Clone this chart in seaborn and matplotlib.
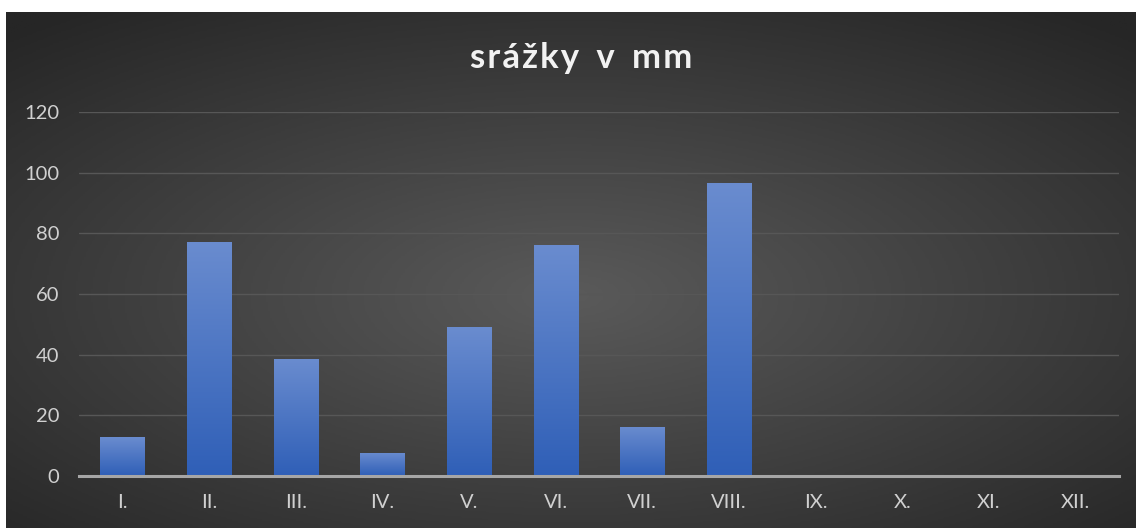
import numpy as np
import pandas as pd
import seaborn as sns
import matplotlib.pyplot as plt
from matplotlib.colors import LinearSegmentedColormap

# Data
months = ["I.", "II.", "III.", "IV.", "V.", "VI.", "VII.", "VIII.", "IX.", "X.", "XI.", "XII."]
rain_mm = [12.8, 77.2, 38.6, 7.6, 49.1, 76.2, 16.2, 96.6, 0, 0, 0, 0]
y_ticks = [0, 20, 40, 60, 80, 100, 120]
title = "srážky v mm"

df = pd.DataFrame({"month": months, "rain": rain_mm})

sns.set_theme(style="white")
plt.rcParams["font.family"] = ["Lato", "DejaVu Sans"]

fig = plt.figure(figsize=(11.36, 5.28), dpi=100)
fig.patch.set_facecolor("white")

# Dark radial gradient background of the chart area
bg_ax = fig.add_axes([6 / 1136, 0, 1 - 6 / 1136, 516 / 528])
bg_ax.set_axis_off()
yy, xx = np.mgrid[-1:1:300j, -1:1:600j]
r = np.sqrt((xx * 0.85) ** 2 + ((yy - 0.1) * 0.9) ** 2)
bg_cmap = LinearSegmentedColormap.from_list("bg", ["#5a5a5a", "#404040", "#262626"])
bg_ax.imshow(r, cmap=bg_cmap, aspect="auto", extent=[0, 1, 0, 1], vmin=0, vmax=1.25)

ax = fig.add_axes([79 / 1136, 52 / 528, 1040 / 1136, 364 / 528])
ax.patch.set_alpha(0)

sns.barplot(data=df, x="month", y="rain", color="#4472c4", width=0.51,
            linewidth=0, ax=ax, zorder=3)

# Vertical gradient on each bar
bar_cmap = LinearSegmentedColormap.from_list("bar", ["#2f5fb7", "#6a8ccf"])
grad = np.linspace(0, 1, 256).reshape(-1, 1)
for patch in ax.patches:
    h = patch.get_height()
    if h <= 0:
        continue
    x0 = patch.get_x()
    w = patch.get_width()
    im = ax.imshow(grad, cmap=bar_cmap, aspect="auto", origin="lower",
                   extent=[x0, x0 + w, 0, h], zorder=4)
    im.set_clip_path(patch)

ax.set_xlim(-0.5, 11.5)
ax.set_ylim(0, 120)
ax.set_yticks(y_ticks)
ax.yaxis.grid(True, color="#575757", linewidth=1.0, zorder=0)
ax.set_axisbelow(True)
for s in ["top", "right", "left"]:
    ax.spines[s].set_visible(False)
ax.spines["bottom"].set_color("#a6a6a6")
ax.spines["bottom"].set_linewidth(2.2)
ax.spines["bottom"].set_zorder(5)
ax.tick_params(axis="both", length=0, labelsize=14.5, colors="#d0d0d0")
ax.tick_params(axis="x", pad=13)
ax.tick_params(axis="y", pad=14)
ax.set_xlabel("")
ax.set_ylabel("")

# spaced-out title like the original
spaced = "\u200a".join(title).replace("\u200a \u200a", "\u2009 \u2009")
fig.text(0.512, 0.89, spaced, ha="center", va="center", fontsize=25,
         fontweight="bold", color="#f2f2f2")

fig.savefig("out.png", dpi=100)
